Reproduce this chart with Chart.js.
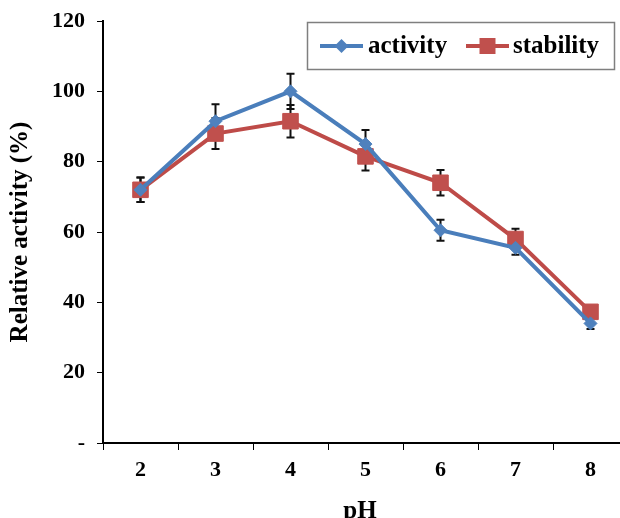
<!DOCTYPE html>
<html>
<head>
<meta charset="utf-8">
<script src="https://cdn.jsdelivr.net/npm/chart.js@4/dist/chart.umd.min.js"></script>
<style>
  html, body { margin: 0; padding: 0; overflow: hidden; background: #fff; }
  #wrap { width: 640px; height: 518px; }
</style>
</head>
<body>
<div id="wrap"><canvas id="ph-canvas"></canvas></div>
<script>
    var phLabels = ['2', '3', '4', '5', '6', '7', '8'];
    var activityValues = [72, 91.5, 100, 85, 60.5, 55.5, 34];
    var activityErrors = [3.5, 4.8, 5, 4, 3, 2, 1.6];
    var stabilityValues = [72, 88, 91.5, 81.5, 74, 58, 37.3];
    var stabilityErrors = [3.5, 4.4, 4.6, 4, 3.6, 2.9, 1.2];
    var yTicks = [0, 20, 40, 60, 80, 100, 120];

    var serif = '"Liberation Serif", "Times New Roman", serif';

    // error bars, drawn under the markers
    var errorBars = {
        id: 'errorBars',
        beforeDatasetsDraw: function(chart) {
            var ctx = chart.ctx;
            var x = chart.scales.x, y = chart.scales.y;
            ctx.save();
            ctx.strokeStyle = '#111';
            ctx.lineWidth = 2;
            chart.data.datasets.forEach(function(ds) {
                for (var i = 0; i < ds.data.length; i++) {
                    var px = x.getPixelForValue(i);
                    var top = y.getPixelForValue(ds.data[i] + ds.errors[i]);
                    var bot = y.getPixelForValue(ds.data[i] - ds.errors[i]);
                    ctx.beginPath();
                    ctx.moveTo(px, top); ctx.lineTo(px, bot);
                    ctx.moveTo(px - 4, top); ctx.lineTo(px + 4, top);
                    ctx.moveTo(px - 4, bot); ctx.lineTo(px + 4, bot);
                    ctx.stroke();
                }
            });
            ctx.restore();
        }
    };

    // boxed legend inside the plot + axis title "pH"
    var boxLegend = {
        id: 'boxLegend',
        afterDraw: function(chart) {
            var ctx = chart.ctx;
            ctx.save();
            ctx.strokeStyle = '#7f7f7f';
            ctx.lineWidth = 1.5;
            ctx.strokeRect(307.5, 22.5, 307, 47);

            var items = [
                {ds: chart.data.datasets[0], x0: 320, x1: 363, tx: 368},
                {ds: chart.data.datasets[1], x0: 466, x1: 509, tx: 513}
            ];
            var ly = 46;
            items.forEach(function(it) {
                var ds = it.ds;
                var cx = (it.x0 + it.x1) / 2;
                ctx.strokeStyle = ds.borderColor;
                ctx.lineWidth = 4;
                ctx.beginPath();
                ctx.moveTo(it.x0, ly); ctx.lineTo(it.x1, ly);
                ctx.stroke();
                ctx.fillStyle = ds.pointBackgroundColor;
                ctx.beginPath();
                if (ds.pointStyle === 'rectRot') {
                    ctx.moveTo(cx, ly - 7); ctx.lineTo(cx + 7, ly);
                    ctx.lineTo(cx, ly + 7); ctx.lineTo(cx - 7, ly);
                    ctx.closePath();
                } else {
                    ctx.rect(cx - 8, ly - 8, 16, 16);
                }
                ctx.fill();
                ctx.fillStyle = '#000';
                ctx.font = 'bold 25px ' + serif;
                ctx.textBaseline = 'alphabetic';
                ctx.textAlign = 'left';
                ctx.fillText(ds.label, it.tx, 53);
            });

            ctx.font = 'bold 25px ' + serif;
            ctx.textAlign = 'center';
            ctx.fillText('pH', 360, 518);
            ctx.restore();
        }
    };

    var ctx = document.getElementById('ph-canvas').getContext('2d');
    var chart = new Chart(ctx, {
        type: 'line',
        data: {
            labels: phLabels,
            datasets: [{
                label: 'activity',
                data: activityValues,
                errors: activityErrors,
                borderColor: '#4A7EBB',
                borderWidth: 4,
                pointStyle: 'rectRot',
                pointRadius: 6.5,
                pointBackgroundColor: '#4F81BD',
                pointBorderColor: '#4F81BD',
                pointBorderWidth: 1,
                tension: 0
            }, {
                label: 'stability',
                data: stabilityValues,
                errors: stabilityErrors,
                borderColor: '#BE4B48',
                borderWidth: 4,
                pointStyle: 'rect',
                pointRadius: 11,
                pointBackgroundColor: '#C0504D',
                pointBorderColor: '#C0504D',
                pointBorderWidth: 1,
                tension: 0
            }]
        },
        options: {
            responsive: true,
            maintainAspectRatio: false,
            animation: false,
            layout: { padding: { top: 21, right: 6, left: 0, bottom: 0 } },
            plugins: {
                legend: { display: false },
                tooltip: { enabled: false }
            },
            scales: {
                x: {
                    type: 'category',
                    offset: true,
                    afterFit: function(s) {
                        s.height = 75;
                        s.paddingLeft = 0;
                        s.paddingRight = 0;
                    },
                    grid: {
                        offset: true,
                        drawOnChartArea: false,
                        drawTicks: true,
                        tickLength: 7,
                        color: '#000',
                        lineWidth: 1
                    },
                    border: { display: true, color: '#000', width: 2 },
                    ticks: {
                        color: '#000',
                        padding: 7,
                        font: { family: serif, size: 22, weight: 'bold' }
                    }
                },
                y: {
                    min: 0,
                    max: 120,
                    afterFit: function(s) {
                        s.width = 103;
                        s.paddingTop = 0;
                        s.paddingBottom = 0;
                    },
                    afterBuildTicks: function(s) {
                        s.ticks = yTicks.map(function(v) { return {value: v}; });
                    },
                    grid: {
                        drawOnChartArea: false,
                        drawTicks: true,
                        tickLength: 6,
                        color: '#000',
                        lineWidth: 1
                    },
                    border: { display: true, color: '#000', width: 2 },
                    ticks: {
                        color: '#000',
                        padding: 12,
                        font: { family: serif, size: 22, weight: 'bold' },
                        callback: function(v) { return v === 0 ? '-' : v; }
                    },
                    title: {
                        display: true,
                        text: 'Relative activity (%)',
                        color: '#000',
                        padding: { top: 6, bottom: 0 },
                        font: { family: serif, size: 25, weight: 'bold', lineHeight: 1.2 }
                    }
                }
            }
        },
        plugins: [errorBars, boxLegend]
    });
</script>
</body>
</html>
